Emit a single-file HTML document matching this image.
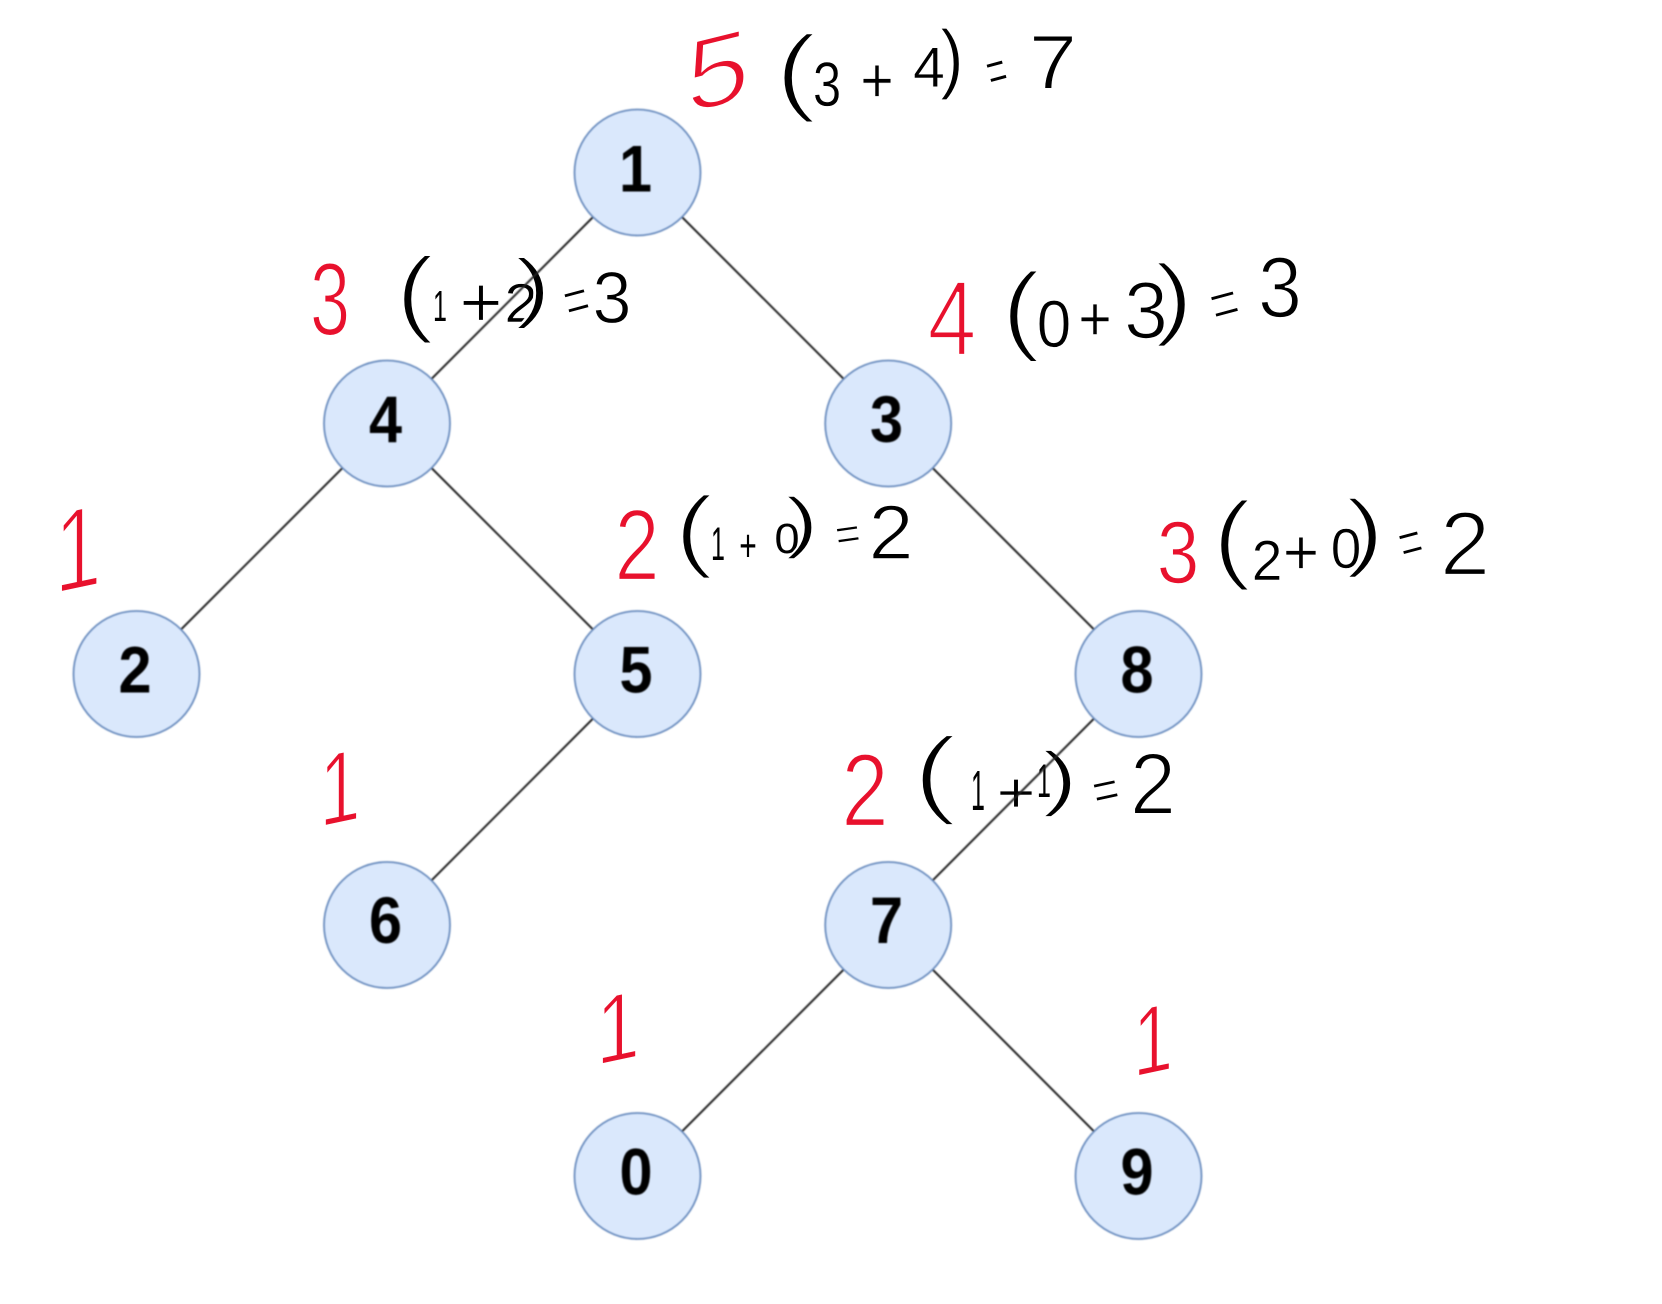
<!DOCTYPE html>
<html>
<head>
<meta charset="utf-8">
<style>
html,body{margin:0;padding:0;background:#fff;width:1662px;height:1304px;overflow:hidden}
svg{display:block}
.h text{font-family:"Liberation Sans",sans-serif;font-size:100px;text-anchor:middle;stroke:#fff}
.r text{fill:#e8112d}
.k text{fill:#000}
.n text{font-family:"Liberation Sans",sans-serif;font-size:66px;font-weight:bold;text-anchor:middle;fill:#000}
</style>
</head>
<body>
<svg width="1662" height="1304" viewBox="0 0 1662 1304" xmlns="http://www.w3.org/2000/svg">
<rect width="1662" height="1304" fill="#fff"/>
<g class="h r">
<text transform="translate(718,106) skewY(-14) scale(1.15,1.03)" stroke-width="3">5</text>
<text transform="translate(952,355) scale(.88,1.07)" stroke-width="2.6">4</text>
<text transform="translate(330,335) scale(.72,1.04)" stroke-width="2">3</text>
<text transform="translate(1178,583) scale(.77,.89)" stroke-width="1.8">3</text>
<text transform="translate(78,589) skewY(-12) scale(.85,1.17)" stroke-width="2.6">1</text>
<text transform="translate(637,580) scale(.81,1.01)" stroke-width="2.2">2</text>
<text transform="translate(340,823) skewY(-12) scale(.74,1.03)" stroke-width="2.2">1</text>
<text transform="translate(865,826) scale(.85,1.04)" stroke-width="2.2">2</text>
<text transform="translate(618,1061) skewY(-12) scale(.79,.97)" stroke-width="2.2">1</text>
<text transform="translate(1153,1073) skewY(-12) scale(.72,.97)" stroke-width="2">1</text>
</g>
<g class="h k">
<!-- (3+4)=7 -->
<text transform="translate(796,103) scale(1.3,.97)" stroke-width="3.2">(</text>
<text transform="translate(827,106) scale(.51,.63)" stroke-width="1">3</text>
<text transform="translate(877,102) scale(.57,.64)" stroke-width="1">+</text>
<text transform="translate(929,87) scale(.57,.57)" stroke-width="1">4</text>
<text transform="translate(952,84) scale(.71,.77)" stroke-width="1.5">)</text>
<text transform="translate(997,73) rotate(-15) scale(.34,.59) translate(0,30)" stroke-width="2">=</text>
<text transform="translate(1053,89) scale(.87,.77)" stroke-width="2">7</text>
<!-- (0+3)=3 -->
<text transform="translate(1021,342) scale(1.2,.99)" stroke-width="3">(</text>
<text transform="translate(1054,347) scale(.62,.67)" stroke-width="1.2">0</text>
<text transform="translate(1095,340) scale(.57,.62)" stroke-width="1">+</text>
<text transform="translate(1146,338) scale(.79,.81)" stroke-width="2">3</text>
<text transform="translate(1174,328) scale(1.2,.91)" stroke-width="3">)</text>
<text transform="translate(1225,306) rotate(-15) scale(.49,.68) translate(0,30)" stroke-width="3">=</text>
<text transform="translate(1280,317) scale(.79,.86)" stroke-width="2">3</text>
<!-- (2+0)=2 -->
<text transform="translate(1232,570.5) scale(1.2,.98)" stroke-width="3">(</text>
<text transform="translate(1267,580) scale(.55,.57)" stroke-width="1">2</text>
<text transform="translate(1301,574) scale(.62,.64)" stroke-width="1.2">+</text>
<text transform="translate(1346,568) scale(.55,.57)" stroke-width="1">0</text>
<text transform="translate(1365,560) scale(1.2,.86)" stroke-width="3">)</text>
<text transform="translate(1411,544.5) rotate(-15) scale(.4,.62) translate(0,30)" stroke-width="2.5">=</text>
<text transform="translate(1465,575) scale(.91,.91)" stroke-width="2.6">2</text>
<!-- (1+2)=3 -->
<text transform="translate(415,324) scale(1.2,.96)" stroke-width="3">(</text>
<text transform="translate(440,321) scale(.25,.44)" stroke-width="0">1</text>
<text transform="translate(481,327) scale(.74,.72)" stroke-width="1.8">+</text>
<text transform="translate(521,322) scale(.6,.55)" stroke-width="1">2</text>
<text transform="translate(533,313) scale(1.1,.77)" stroke-width="2.6">)</text>
<text transform="translate(577,302.5) rotate(-15) scale(.43,.62) translate(0,30)" stroke-width="2.5">=</text>
<text transform="translate(612,323) scale(.7,.73)" stroke-width="1.6">3</text>
<!-- (1+0)=2 -->
<text transform="translate(694,560) scale(1.2,.91)" stroke-width="3">(</text>
<text transform="translate(718,560) scale(.25,.47)" stroke-width="0">1</text>
<text transform="translate(748,561) scale(.3,.45)" stroke-width="0">+</text>
<text transform="translate(787,553) scale(.45,.43)" stroke-width="0">0</text>
<text transform="translate(802,545) scale(1,.68)" stroke-width="2.2">)</text>
<text transform="translate(848,535.5) rotate(-8) scale(.43,.44) translate(0,30)" stroke-width="2">=</text>
<text transform="translate(891,559) scale(.81,.77)" stroke-width="2">2</text>
<!-- (1+1)=2 -->
<text transform="translate(935,805.5) scale(1.4,.98)" stroke-width="3.4">(</text>
<text transform="translate(978,810) scale(.25,.57)" stroke-width="0">1</text>
<text transform="translate(1016,812) scale(.66,.57)" stroke-width="1.2">+</text>
<text transform="translate(1044,797) scale(.25,.47)" stroke-width="0">1</text>
<text transform="translate(1060,802) scale(1.1,.71)" stroke-width="2.6">)</text>
<text transform="translate(1106,792) rotate(-12) scale(.45,.53) translate(0,30)" stroke-width="2">=</text>
<text transform="translate(1153,814) scale(.83,.87)" stroke-width="2.4">2</text>
</g>
<g transform="translate(-.5,-1)" style="filter:blur(.8px)">
<g stroke="#222" stroke-width="2" fill="none">
<line x1="638" y1="173.5" x2="387.5" y2="424.5"/>
<line x1="638" y1="173.5" x2="888.7" y2="424.5"/>
<line x1="387.5" y1="424.5" x2="137" y2="675"/>
<line x1="387.5" y1="424.5" x2="638" y2="675"/>
<line x1="888.7" y1="424.5" x2="1139" y2="675"/>
<line x1="638" y1="675" x2="387.5" y2="926"/>
<line x1="1139" y1="675" x2="888.7" y2="926"/>
<line x1="888.7" y1="926" x2="638" y2="1177"/>
<line x1="888.7" y1="926" x2="1139" y2="1177"/>
</g>
<g fill="#dae8fc" stroke="#6c8ebf" stroke-width="1.8">
<circle cx="638" cy="173.5" r="63"/>
<circle cx="387.5" cy="424.5" r="63"/>
<circle cx="888.7" cy="424.5" r="63"/>
<circle cx="137" cy="675" r="63"/>
<circle cx="638" cy="675" r="63"/>
<circle cx="1139" cy="675" r="63"/>
<circle cx="387.5" cy="926" r="63"/>
<circle cx="888.7" cy="926" r="63"/>
<circle cx="638" cy="1177" r="63"/>
<circle cx="1139" cy="1177" r="63"/>
</g>
<g class="n">
<text transform="translate(636,192.5) scale(.9,1)">1</text>
<text transform="translate(386,443) scale(.9,1)">4</text>
<text transform="translate(887,443) scale(.9,1)">3</text>
<text transform="translate(135.5,693.5) scale(.9,1)">2</text>
<text transform="translate(636.5,693.5) scale(.9,1)">5</text>
<text transform="translate(1137.5,693.5) scale(.9,1)">8</text>
<text transform="translate(386,944) scale(.9,1)">6</text>
<text transform="translate(887,944) scale(.9,1)">7</text>
<text transform="translate(636.5,1195.5) scale(.9,1)">0</text>
<text transform="translate(1137.5,1195.5) scale(.9,1)">9</text>
</g>
</g>
</svg>
</body>
</html>
